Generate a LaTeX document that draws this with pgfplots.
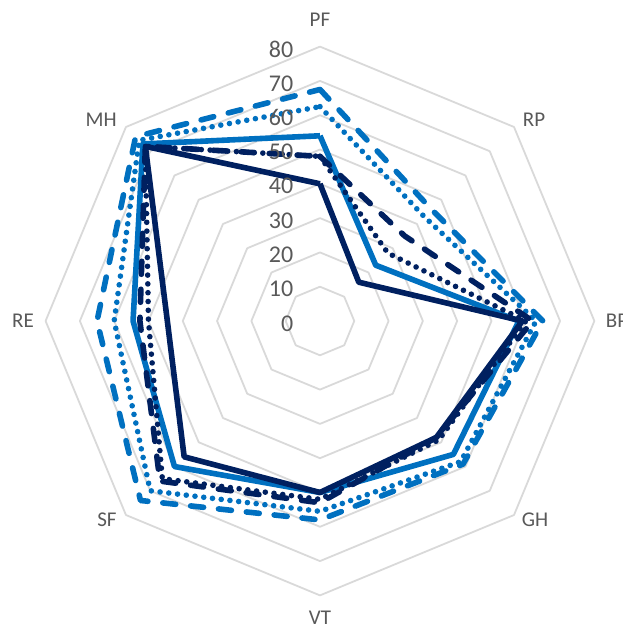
\documentclass[border=0pt]{standalone}
\usepackage{pgfplots}
\pgfplotsset{compat=1.18}
\usepackage{fontspec}
\setmainfont{Carlito}
\definecolor{navy}{HTML}{002060}
\definecolor{mblue}{HTML}{0070C0}
\definecolor{ringc}{HTML}{D9D9D9}
\definecolor{txt}{HTML}{595959}
\begin{document}
\begin{tikzpicture}
\begin{axis}[
  name=ax, x=1.715pt, y=1.715pt,
  xmin=-93.29, xmax=88.34, ymin=-90.09, ymax=93.59,
  hide axis, clip=false,
  every axis plot/.append style={line join=round},
  ser/.style={line width=2.8pt, no markers},
  dashed ser/.style={line cap=round, dash pattern=on 6.5pt off 7.5pt},
  dotted ser/.style={line cap=round, dash pattern=on 0pt off 4.4pt},
]
% grid rings
\pgfplotsinvokeforeach{10,20,30,40,50,60,70,80}{
  \addplot[ringc, line width=0.9pt, data cs=polar, no markers] coordinates {(90,#1)(45,#1)(0,#1)(-45,#1)(-90,#1)(-135,#1)(180,#1)(135,#1)(90,#1)};
}
% series: order PF RP BP GH VT SF RE MH
% blue dashed
\addplot[ser, dashed ser, mblue, data cs=polar] coordinates {(90,67.5)(45,46)(0,65)(-45,59)(-90,58)(-135,74)(180,65)(135,76)(90,67.5)};
% blue dotted
\addplot[ser, dotted ser, mblue, data cs=polar] coordinates {(90,62.5)(45,43)(0,63)(-45,58)(-90,55.5)(-135,70)(180,60)(135,74.5)(90,62.5)};
% blue solid
\addplot[ser, mblue, data cs=polar] coordinates {(90,54)(45,23)(0,58)(-45,55)(-90,50)(-135,60)(180,54.5)(135,73)(90,54)};
% navy dotted
\addplot[ser, dotted ser, navy, data cs=polar] coordinates {(90,48)(45,28)(0,60)(-45,49)(-90,52)(-135,65)(180,50)(135,72)(90,48)};
% navy dashed
\addplot[ser, dashed ser, navy, data cs=polar] coordinates {(90,48)(45,35)(0,62)(-45,48)(-90,53)(-135,66)(180,52.5)(135,72)(90,48)};
% navy solid
\addplot[ser, navy, data cs=polar] coordinates {(90,40)(45,16)(0,59)(-45,48)(-90,50)(-135,56)(180,44.5)(135,72)(90,40)};
% value labels
\node[anchor=east, text=txt, font=\fontsize{12}{12}\selectfont, inner sep=0pt] at (axis cs:-7.7,-0.7) {0};
\node[anchor=east, text=txt, font=\fontsize{12}{12}\selectfont, inner sep=0pt] at (axis cs:-7.7,9.3) {10};
\node[anchor=east, text=txt, font=\fontsize{12}{12}\selectfont, inner sep=0pt] at (axis cs:-7.7,19.3) {20};
\node[anchor=east, text=txt, font=\fontsize{12}{12}\selectfont, inner sep=0pt] at (axis cs:-7.7,29.3) {30};
\node[anchor=east, text=txt, font=\fontsize{12}{12}\selectfont, inner sep=0pt] at (axis cs:-7.7,39.3) {40};
\node[anchor=east, text=txt, font=\fontsize{12}{12}\selectfont, inner sep=0pt] at (axis cs:-7.7,49.3) {50};
\node[anchor=east, text=txt, font=\fontsize{12}{12}\selectfont, inner sep=0pt] at (axis cs:-7.7,59.3) {60};
\node[anchor=east, text=txt, font=\fontsize{12}{12}\selectfont, inner sep=0pt] at (axis cs:-7.7,69.3) {70};
\node[anchor=east, text=txt, font=\fontsize{12}{12}\selectfont, inner sep=0pt] at (axis cs:-7.7,79.3) {80};
% category labels
\node[text=txt, font=\fontsize{10.5}{10.5}\selectfont] at (axis cs:0,87.8) {PF};
\node[text=txt, font=\fontsize{10.5}{10.5}\selectfont] at (axis cs:62.4,58.6) {RP};
\node[text=txt, font=\fontsize{10.5}{10.5}\selectfont] at (axis cs:86.6,0) {BP};
\node[text=txt, font=\fontsize{10.5}{10.5}\selectfont] at (axis cs:62.7,-58.0) {GH};
\node[text=txt, font=\fontsize{10.5}{10.5}\selectfont] at (axis cs:0,-86.6) {VT};
\node[text=txt, font=\fontsize{10.5}{10.5}\selectfont] at (axis cs:-62.1,-58.0) {SF};
\node[text=txt, font=\fontsize{10.5}{10.5}\selectfont] at (axis cs:-86.6,0) {RE};
\node[text=txt, font=\fontsize{10.5}{10.5}\selectfont] at (axis cs:-63.8,58.6) {MH};
\end{axis}
\pgfresetboundingbox
\path[use as bounding box] (ax.south west) rectangle (ax.north east);
\end{tikzpicture}
\end{document}
